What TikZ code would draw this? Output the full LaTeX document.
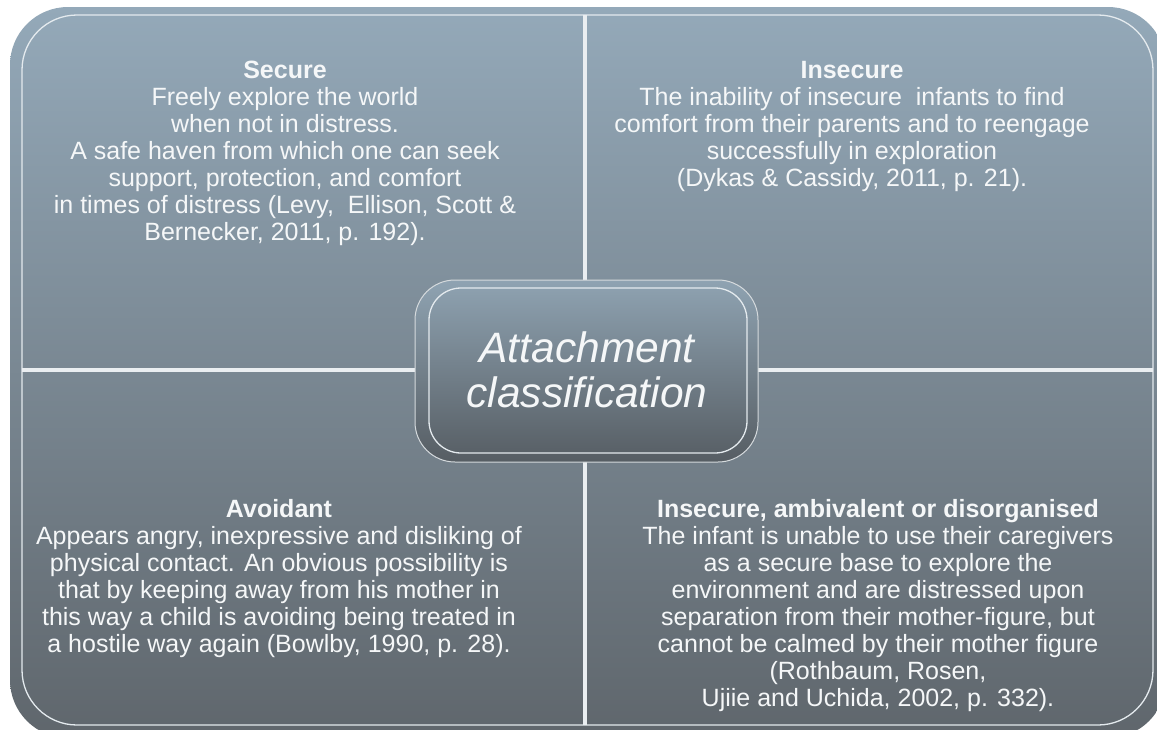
\documentclass[tikz,border=0pt]{standalone}
\usepackage{fontspec}
\setmainfont{Liberation Sans}
\definecolor{bgtop}{RGB}{148,169,185}
\definecolor{bgmid}{RGB}{122,139,151}
\definecolor{bgbot}{RGB}{95,102,108}
\definecolor{ctop}{RGB}{143,163,178}
\definecolor{cbot}{RGB}{86,93,99}
\definecolor{crossc}{RGB}{234,238,241}
\definecolor{outl}{RGB}{228,234,238}
\definecolor{textc}{RGB}{245,247,248}
\begin{document}
\begin{tikzpicture}[x=1pt,y=-1pt,
  txt/.style={anchor=north, align=center, inner sep=0pt, text=textc, font=\fontsize{25}{27}\selectfont},
  divline/.style={line width=4pt, draw=crossc},
  thinline/.style={line width=1.3pt, draw=outl}]
\useasboundingbox (0,0) rectangle (1157,729);
\fill[white] (0,0) rectangle (1157,729);
% background
\shade[top color=bgtop, middle color=bgmid, bottom color=bgbot, rounded corners=58pt]
  (10,7) rectangle (1166,738);
\draw[thinline, rounded corners=55pt] (22,15) rectangle (1153,725);
% dividers
\draw[divline] (585,15) -- (585,725);
\draw[divline] (22,370) -- (1153,370);
% centre shape
\shade[top color=ctop, bottom color=cbot, rounded corners=40pt, draw=outl!85!gray, line width=1pt]
  (415,280) rectangle (758,462);
\draw[thinline, rounded corners=32pt] (429,288) rectangle (747,453);
\node[anchor=north, align=center, inner sep=0pt, text=textc,
      font=\fontsize{42.5}{43}\selectfont\itshape] (centre) at (587,331.9)
  {\strut Attachment\\classification};
% quadrant texts
\node[txt] (secure) at (285,59.1)
  {\strut\textbf{Secure}\\Freely explore the world\\when not in distress.\\A safe haven from which one can seek\\support, protection, and comfort\\in times of distress (Levy,~ Ellison, Scott \&\\Bernecker, 2011, p. 192).};
\node[txt] (insecure) at (852,59.1)
  {\strut\textbf{Insecure}\\The inability of insecure~ infants to find\\comfort from their parents and to reengage\\successfully in exploration\\(Dykas \& Cassidy, 2011, p. 21).};
\node[txt] (avoidant) at (279,498.1)
  {\strut\textbf{Avoidant}\\Appears angry, inexpressive and disliking of\\physical contact. An obvious possibility is\\that by keeping away from his mother in\\this way a child is avoiding being treated in\\a hostile way again (Bowlby, 1990, p. 28).};
\node[txt] (ambivalent) at (878,498.1)
  {\strut\textbf{Insecure, ambivalent or disorganised}\\The infant is unable to use their caregivers\\as a secure base to explore the\\environment and are distressed upon\\separation from their mother-figure, but\\cannot be calmed by their mother figure\\(Rothbaum, Rosen,\\Ujiie and Uchida, 2002, p. 332).};
\end{tikzpicture}
\end{document}
